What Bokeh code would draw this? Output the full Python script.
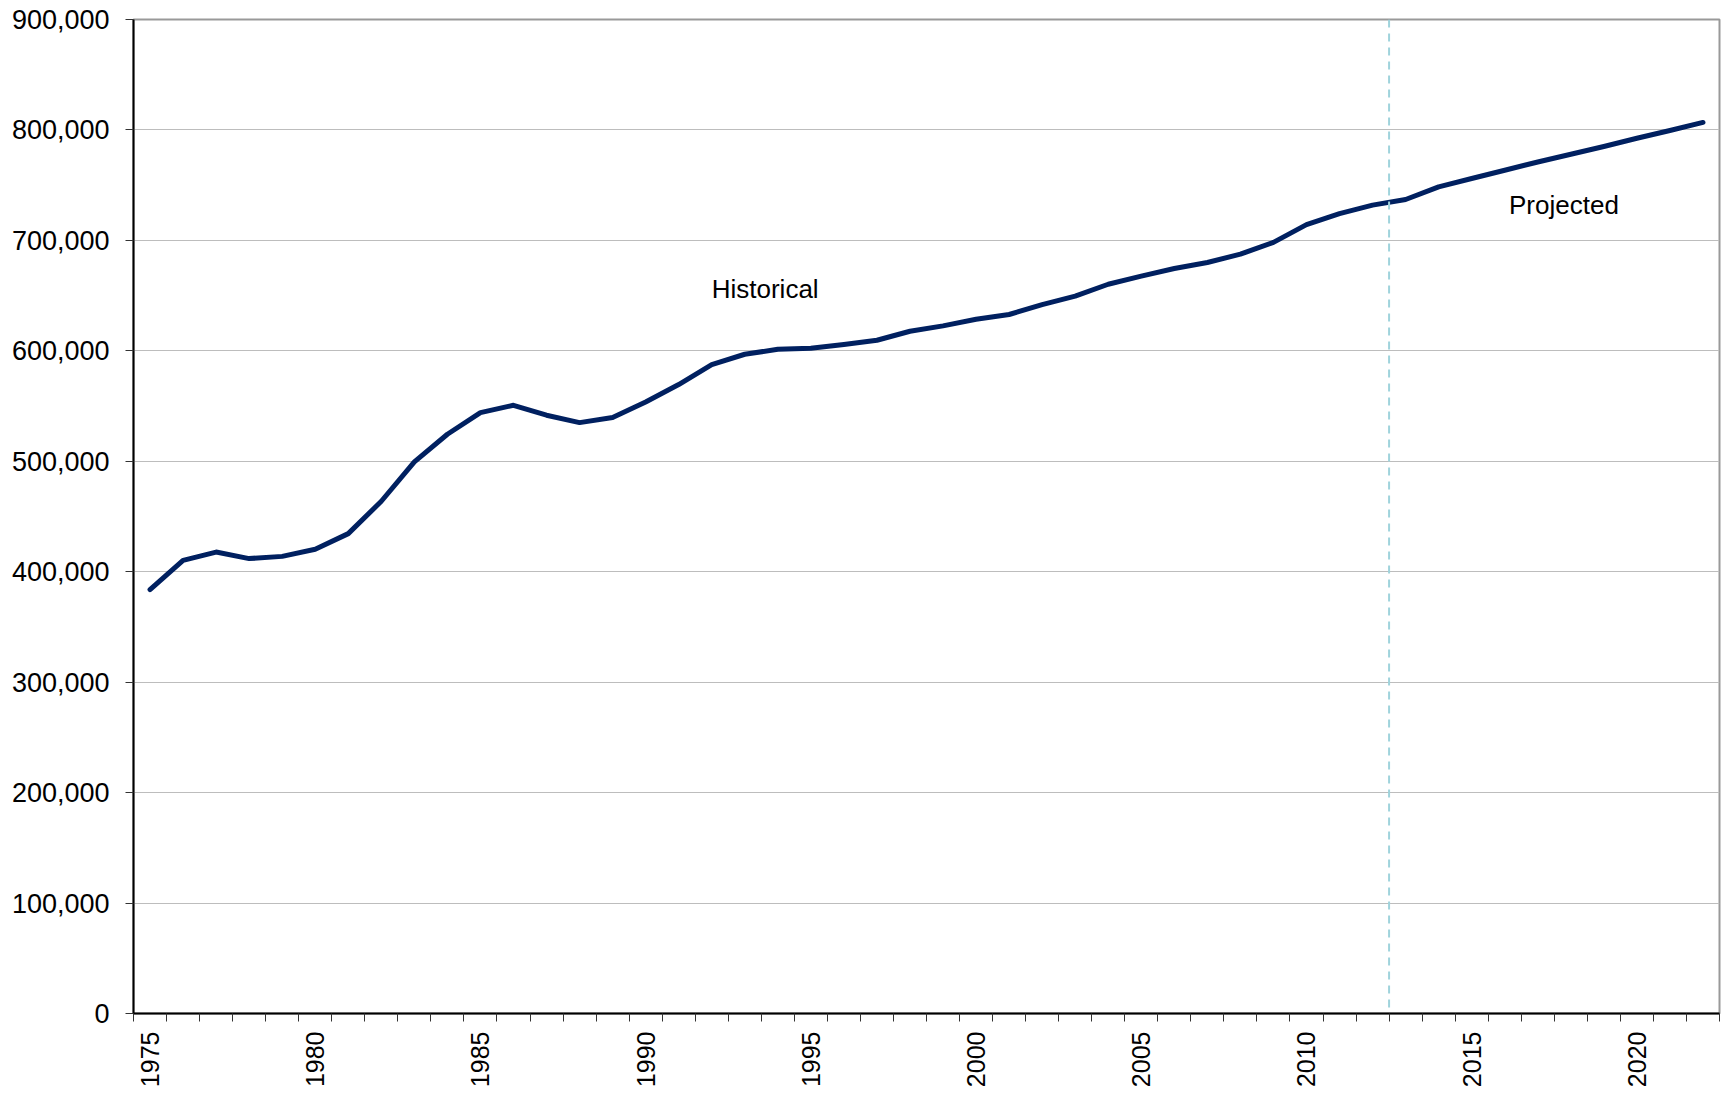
import math
from bokeh.plotting import figure
from bokeh.models import FixedTicker, Span, NumeralTickFormatter, Label
from bokeh.embed import file_html
from bokeh.resources import INLINE

years = list(range(1975, 2023))
values = [
    383800, 410300, 417800, 411900, 413900, 420300, 434500, 463800, 499400, 524500,
    544100, 550700, 541700, 535000, 539600, 553700, 569500, 587600, 596900, 601400,
    602300, 605700, 609600, 617700, 622600, 628600, 632900, 641900, 649500, 660300,
    667600, 674500, 680000, 687500, 698200, 714300, 724300, 731900, 737000, 748500,
    756000, 763500, 771000, 778000, 785000, 792500, 799500, 806800,
]
label_years = [1975, 1980, 1985, 1990, 1995, 2000, 2005, 2010, 2015, 2020]
y_ticks = [0, 100000, 200000, 300000, 400000, 500000, 600000, 700000, 800000, 900000]
split_year = 2012.5
FONT = "Liberation Sans"

p = figure(width=1727, height=1094, output_backend="svg", toolbar_location=None,
           x_range=(1974.5, 2022.5), y_range=(0, 900000),
           min_border_left=133, min_border_right=8, min_border_top=19, min_border_bottom=81)

p.outline_line_color = "#999999"
p.outline_line_width = 2
p.background_fill_color = "white"
p.border_fill_color = "white"

p.xgrid.grid_line_color = None
p.ygrid.grid_line_color = "#bdbdbd"
p.ygrid.grid_line_width = 1
p.ygrid.ticker = FixedTicker(ticks=y_ticks)

xa = p.xaxis[0]
xa.ticker = FixedTicker(ticks=label_years, minor_ticks=[y - 0.5 for y in years] + [2022.5])
xa.major_tick_out = 0
xa.major_tick_in = 0
xa.minor_tick_out = 8
xa.minor_tick_in = 0
xa.minor_tick_line_color = "#333333"
xa.axis_line_color = "black"
xa.axis_line_width = 2
xa.major_label_orientation = math.pi / 2
xa.major_label_standoff = 10
xa.major_label_text_font = FONT
xa.major_label_text_font_size = "25px"
xa.major_label_text_color = "black"

ya = p.yaxis[0]
ya.ticker = FixedTicker(ticks=y_ticks)
ya.formatter = NumeralTickFormatter(format="0,0")
ya.major_tick_out = 8
ya.major_tick_in = 0
ya.minor_tick_out = 0
ya.minor_tick_in = 0
ya.major_tick_line_color = "#333333"
ya.axis_line_color = "black"
ya.axis_line_width = 2
ya.major_label_standoff = 16
ya.major_label_text_font = FONT
ya.major_label_text_font_size = "27px"
ya.major_label_text_color = "black"

p.add_layout(Span(location=split_year, dimension="height", line_color="#9fd3dc",
                  line_width=2, line_dash="8 6"))

p.line(years, values, line_color="#002060", line_width=5, line_join="round", line_cap="round")

p.add_layout(Label(x=1992.0, y=642600, text="Historical", text_font=FONT,
                   text_font_size="26px", text_color="black"))
p.add_layout(Label(x=2016.13, y=718200, text="Projected", text_font=FONT,
                   text_font_size="26px", text_color="black"))

open("out.html", "w").write(file_html(p, INLINE))
